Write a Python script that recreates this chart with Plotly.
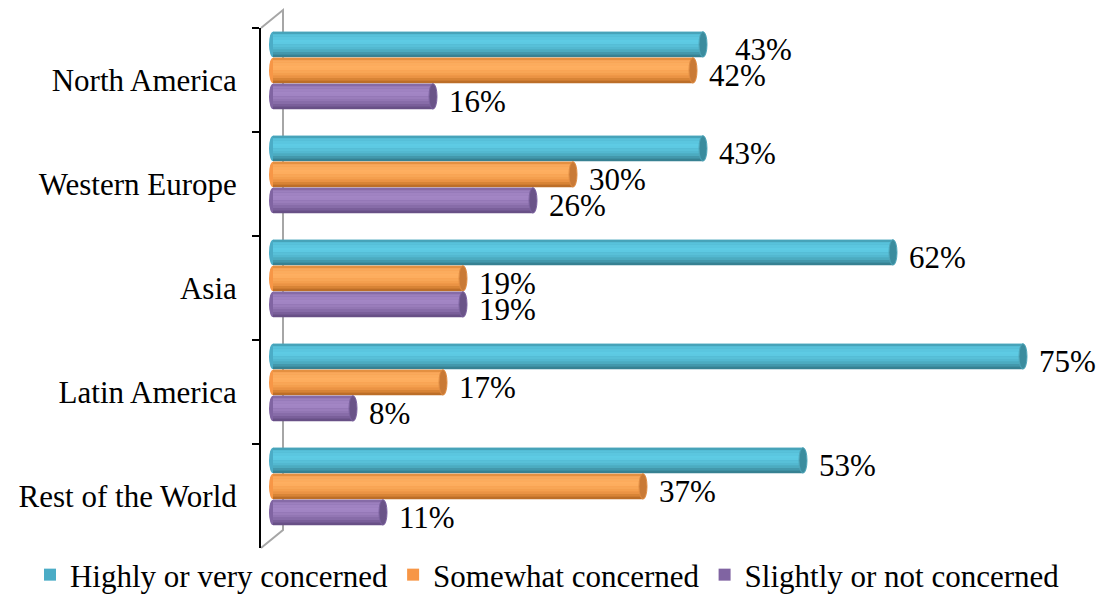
import plotly.graph_objects as go

# Survey regions (top to bottom) and share of respondents per concern level (%)
regions = ["North America", "Western Europe", "Asia", "Latin America", "Rest of the World"]
highly = [43, 43, 62, 75, 53]
somewhat = [42, 30, 19, 17, 37]
slightly = [16, 26, 19, 8, 11]
series_names = ["Highly or very concerned", "Somewhat concerned", "Slightly or not concerned"]

FONT = "Liberation Serif"
LABEL_FONT = "serif"
LEGEND_FONT = "Times New Roman"

# Style of each series: flat legend colour, cylinder shading stops, end-cap colour
styles = [
    dict(base="#4BACC6", cap="#3B8C9E", capline="#4FA6BA",
         stops=[(0.0, "#3F93A8"), (0.15, "#58C2DB"), (0.4, "#60CDE6"),
                (0.7, "#50B4CB"), (0.9, "#3F8FA1"), (1.0, "#2F7282")]),
    dict(base="#F79646", cap="#C97A36", capline="#E08C42",
         stops=[(0.0, "#D98434"), (0.15, "#F9A95C"), (0.4, "#FFB162"),
                (0.7, "#F29B4A"), (0.9, "#D07C30"), (1.0, "#A86020")]),
    dict(base="#8064A2", cap="#6A5488", capline="#7C62A0",
         stops=[(0.0, "#7B619B"), (0.15, "#9C80BE"), (0.4, "#A588C7"),
                (0.7, "#8E72AF"), (0.9, "#735993"), (1.0, "#5C4778")]),
]

BAR_W = 0.245
OFFSETS = [-0.465, -0.215, 0.035]
N_STRIPS = 10
CAP_HALF = 0.4  # half-width of the elliptical end caps, in x units


def hex_to_rgb(h):
    h = h.lstrip("#")
    return tuple(int(h[i:i + 2], 16) for i in (0, 2, 4))


def shade(stops, t):
    for (t0, c0), (t1, c1) in zip(stops, stops[1:]):
        if t0 <= t <= t1:
            f = (t - t0) / (t1 - t0) if t1 > t0 else 0
            a, b = hex_to_rgb(c0), hex_to_rgb(c1)
            return "rgb(%d,%d,%d)" % tuple(round(a[k] + (b[k] - a[k]) * f) for k in range(3))
    return stops[-1][1]


all_series = [highly, somewhat, slightly]
fig = go.Figure()
shapes = []
annotations = []

for s, (name, vals) in enumerate(zip(series_names, all_series)):
    st = styles[s]
    off = OFFSETS[s]
    # flat bar carrying the legend entry
    fig.add_trace(go.Bar(
        y=regions, x=vals, orientation="h", name=name,
        width=BAR_W, offset=off, marker=dict(color=st["base"], line=dict(width=0)),
        hoverinfo="x+y",
    ))
    # horizontal strips giving the cylinder shading
    sw = BAR_W / N_STRIPS
    for k in range(N_STRIPS):
        t = (k + 0.5) / N_STRIPS
        fig.add_trace(go.Bar(
            y=regions, x=vals, orientation="h", showlegend=False,
            width=sw * 1.05, offset=off + k * sw,
            marker=dict(color=shade(st["stops"], t), line=dict(width=0)),
            hoverinfo="skip",
        ))
    for i, v in enumerate(vals):
        y0, y1 = i + off, i + off + BAR_W
        # rounded left end
        shapes.append(dict(type="circle", xref="x", yref="y", layer="below",
                           x0=-CAP_HALF, x1=CAP_HALF, y0=y0, y1=y1,
                           fillcolor=st["base"], line=dict(width=0)))
        # visible end cap on the right
        shapes.append(dict(type="circle", xref="x", yref="y", layer="above",
                           x0=v - CAP_HALF, x1=v + CAP_HALF, y0=y0, y1=y1,
                           fillcolor=st["cap"], line=dict(width=1, color=st["capline"])))
        # push a label further right when the bar just below is slightly shorter
        shift = 14
        if s + 1 < len(all_series) and 0 < v - all_series[s + 1][i] <= 2:
            shift = 30
        annotations.append(dict(
            x=v, y=(y0 + y1) / 2 + 0.05, xref="x", yref="y",
            text=f"{v}%", showarrow=False, xanchor="left", yanchor="middle",
            xshift=shift, font=dict(family=LABEL_FONT, size=31, color="#000000"),
        ))

# 3-D back wall outline behind the bars
L, T, W, H = 261, 28, 831, 520


def px(xp, yp):
    return (xp - L) / W, (T + H - yp) / H


pts = [px(261, 28), px(283, 10), px(283, 530), px(261, 548)]
path = "M {} {} L {} {} L {} {} L {} {}".format(*[c for p in pts for c in p])
shapes.insert(0, dict(type="path", xref="paper", yref="paper", layer="below",
                      path=path, line=dict(color="#A6A6A6", width=2)))

fig.update_layout(
    width=1102, height=596,
    margin=dict(l=L, r=1102 - L - W, t=T, b=596 - T - H, autoexpand=False),
    paper_bgcolor="white", plot_bgcolor="rgba(0,0,0,0)",
    barmode="overlay",
    font=dict(family=FONT, size=31, color="#000000"),
    xaxis=dict(range=[-1.2, 81.9], showgrid=False, zeroline=False,
               showline=False, showticklabels=False, ticks=""),
    yaxis=dict(type="category", categoryorder="array", categoryarray=regions,
               range=[4.5, -0.5], showgrid=False, zeroline=False,
               showline=True, linecolor="#000000", linewidth=2,
               ticks="outside", tickson="boundaries", ticklen=7,
               tickcolor="#000000", tickwidth=2, ticklabelstandoff=16,
               tickfont=dict(family=FONT, size=31, color="#000000")),
    legend=dict(orientation="h", x=-0.278, xanchor="left", y=0.0, yanchor="top",
                font=dict(family=LEGEND_FONT, size=31, color="#000000"),
                bgcolor="rgba(0,0,0,0)", itemclick=False, itemdoubleclick=False),
    shapes=shapes,
    annotations=annotations,
    showlegend=True,
)

fig.write_html("out.html")
